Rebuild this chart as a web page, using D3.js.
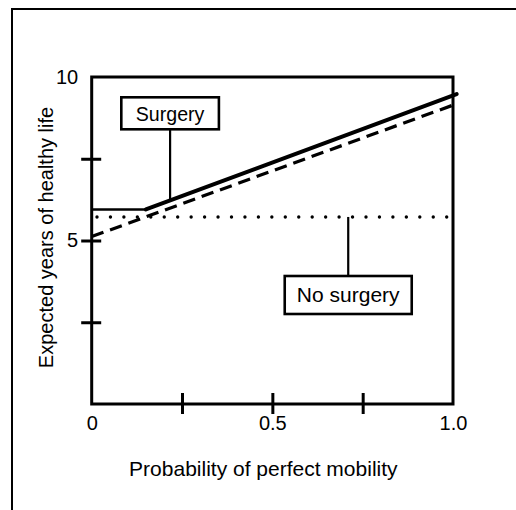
<!DOCTYPE html>
<html>
<head>
<meta charset="utf-8">
<script src="https://cdn.jsdelivr.net/npm/d3@7"></script>
<style>
  html, body { margin: 0; padding: 0; background: #fff; }
  svg { display: block; }
  text { font-family: "Liberation Sans", Arial, Helvetica, sans-serif; fill: #000; }
</style>
</head>
<body>
<div id="chart"></div>
<script>
// Probability of perfect mobility (x) vs expected years of healthy life (y)
const surgeryP = [0, 0.15, 1.01];
const surgeryYears = [5.95, 5.95, 9.48];

const surgeryAltP = [0, 1.0];
const surgeryAltYears = [5.12, 9.14];

const noSurgeryP = [0, 1.0];
const noSurgeryYears = [5.72, 5.72];

const xTickValues = [0.25, 0.5, 0.75];
const xTickLabels = ["0", "0.5", "1.0"];
const xLabelValues = [0, 0.5, 1.0];
const yTickValues = [2.5, 5, 7.5];
const yTickLabels = ["5", "10"];
const yLabelValues = [5, 10];

const annotationNames = ["Surgery", "No surgery"];
const annotationP = [0.217, 0.71];

const W = 516, H = 510;
const svg = d3.select("#chart").append("svg")
  .attr("width", W).attr("height", H);

svg.append("rect").attr("width", W).attr("height", H).attr("fill", "#fff");

// outer frame (runs off the right and bottom edges)
svg.append("rect")
  .attr("x", 12).attr("y", 9)
  .attr("width", 540).attr("height", 540)
  .attr("fill", "none").attr("stroke", "#000").attr("stroke-width", 2);

const x = d3.scaleLinear().domain([0, 1]).range([91.7, 453]);
const y = d3.scaleLinear().domain([0, 10]).range([404, 77]);

// plot frame
svg.append("rect")
  .attr("x", x(0)).attr("y", y(10))
  .attr("width", x(1) - x(0)).attr("height", y(0) - y(10))
  .attr("fill", "none").attr("stroke", "#000").attr("stroke-width", 3);

// y axis: ticks crossing the axis line
const yAxis = svg.append("g")
  .attr("transform", `translate(${x(0)},0)`)
  .call(d3.axisLeft(y).tickValues(yTickValues).tickSize(0).tickFormat(""));
yAxis.select(".domain").remove();
yAxis.selectAll(".tick line")
  .attr("x1", -10.5).attr("x2", 9.5)
  .attr("stroke", "#000").attr("stroke-width", 3);

const yLab = svg.append("g")
  .attr("transform", `translate(${x(0)},0)`)
  .call(d3.axisLeft(y).tickValues(yLabelValues).tickSize(0).tickPadding(13.5)
    .tickFormat((d, i) => yTickLabels[i]));
yLab.select(".domain").remove();
yLab.selectAll("text")
  .attr("font-size", 20).attr("font-family", null).attr("fill", "#000")
  .attr("dy", "0.3em");

// x axis
const xAxis = svg.append("g")
  .attr("transform", `translate(0,${y(0)})`)
  .call(d3.axisBottom(x).tickValues(xTickValues).tickSize(0).tickFormat(""));
xAxis.select(".domain").remove();
xAxis.selectAll(".tick line")
  .attr("y1", -11).attr("y2", 10)
  .attr("stroke", "#000").attr("stroke-width", 3);

const xLab = svg.append("g")
  .attr("transform", `translate(0,${y(0)})`)
  .call(d3.axisBottom(x).tickValues(xLabelValues).tickSize(0).tickPadding(0)
    .tickFormat((d, i) => xTickLabels[i]));
xLab.select(".domain").remove();
xLab.selectAll("text")
  .attr("font-size", 20).attr("font-family", null).attr("fill", "#000")
  .attr("dy", null).attr("y", 26);

// axis titles
svg.append("text")
  .attr("x", (x(0) + x(1)) / 2 - 9).attr("y", 476)
  .attr("text-anchor", "middle").attr("font-size", 21)
  .text("Probability of perfect mobility");

svg.append("text")
  .attr("transform", `translate(53,${237.5}) rotate(-90)`)
  .attr("text-anchor", "middle").attr("font-size", 20)
  .text("Expected years of healthy life");

const line = d3.line().x(d => x(d[0])).y(d => y(d[1]));

// dashed series
const altPts = surgeryAltP.map((p, i) => [p, surgeryAltYears[i]]);
svg.append("path").attr("d", line(altPts))
  .attr("fill", "none").attr("stroke", "#000").attr("stroke-width", 3.2)
  .attr("stroke-dasharray", "12.5,7");

// dotted "no surgery" series
const noPts = noSurgeryP.map((p, i) => [p, noSurgeryYears[i]]);
svg.append("path").attr("d", line(noPts))
  .attr("fill", "none").attr("stroke", "#000").attr("stroke-width", 3.4)
  .attr("stroke-linecap", "round")
  .attr("stroke-dasharray", "0,13.45")
  .attr("stroke-dashoffset", 8.15);

// solid "surgery" series: flat section then rising section
const sPts = surgeryP.map((p, i) => [p, surgeryYears[i]]);
svg.append("path").attr("d", line(sPts.slice(0, 2)))
  .attr("fill", "none").attr("stroke", "#000").attr("stroke-width", 2.5);
svg.append("path").attr("d", line(sPts.slice(1)))
  .attr("fill", "none").attr("stroke", "#000").attr("stroke-width", 4)
  .attr("stroke-linecap", "round");

// callout boxes with leader lines
const surgeryAt = p => d3.scaleLinear().domain(surgeryP.slice(1)).range(surgeryYears.slice(1))(p);
const callouts = [
  { name: annotationNames[0], p: annotationP[0], from: surgeryAt(annotationP[0]),
    boxTop: 97.3, boxH: 32, boxW: 97.6, size: 19.6, base: 121 },
  { name: annotationNames[1], p: annotationP[1], from: noSurgeryYears[0],
    boxTop: 276, boxH: 38, boxW: 127, size: 21, base: 302 }
];

callouts.forEach(c => {
  const cx = x(c.p);
  const attachY = c.boxTop > y(c.from) ? c.boxTop : c.boxTop + c.boxH;
  svg.append("line")
    .attr("x1", cx).attr("x2", cx)
    .attr("y1", y(c.from)).attr("y2", attachY)
    .attr("stroke", "#000").attr("stroke-width", 2.2);
  svg.append("rect")
    .attr("x", cx - c.boxW / 2).attr("y", c.boxTop)
    .attr("width", c.boxW).attr("height", c.boxH)
    .attr("fill", "#fff").attr("stroke", "#000").attr("stroke-width", 2.6);
  svg.append("text")
    .attr("x", cx).attr("y", c.base)
    .attr("text-anchor", "middle").attr("font-size", c.size)
    .text(c.name);
});
</script>
</body>
</html>
